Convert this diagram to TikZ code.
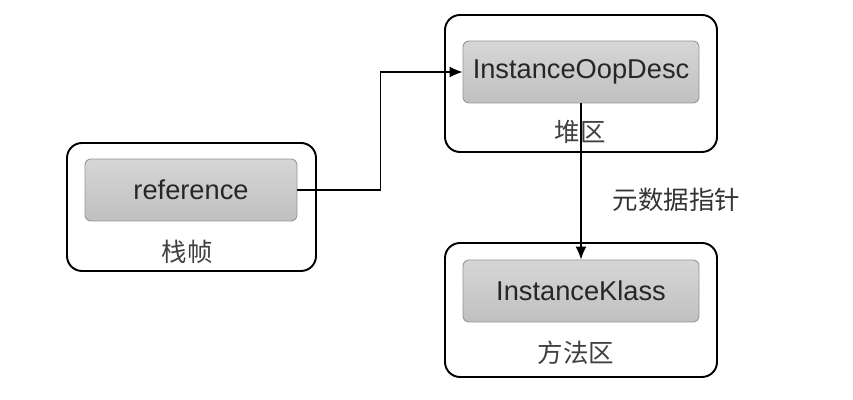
\documentclass[tikz,border=0pt]{standalone}
\usepackage{fontspec}
\setmainfont{Liberation Sans}
\newfontfamily\cjk{Noto Sans CJK SC}
\usepackage{tikz}
\usetikzlibrary{arrows.meta,positioning,calc}
\definecolor{boxline}{RGB}{150,150,150}
\definecolor{boxtop}{RGB}{214,214,214}
\definecolor{boxbot}{RGB}{192,192,192}
\tikzset{
  region/.style={rectangle, rounded corners=0.3cm, draw=black, line width=1.1pt,
                 minimum width=#1, fill=white},
  objbox/.style={rectangle, rounded corners=0.12cm, draw=boxline, line width=0.5pt,
                 top color=boxtop, bottom color=boxbot, minimum height=1.24cm,
                 minimum width=#1, font=\fontsize{15.5}{18}\selectfont, text=black!85},
  arealabel/.style={font=\cjk\fontsize{14.5}{17}\selectfont, text=black!75},
  arr/.style={-{Latex[length=2.6mm,width=2.2mm]}, line width=0.8pt},
}
\begin{document}
\begin{tikzpicture}
  \useasboundingbox (0,0) rectangle (17.06,8);
  % stack frame
  \node[region=4.98cm, minimum height=2.56cm] (stack) at (3.83,3.86) {};
  \node[objbox=4.24cm] (ref) at (3.82,4.2) {reference};
  \node[arealabel] (stacklbl) at (3.74,2.96) {栈帧};
  % heap
  \node[region=5.44cm, minimum height=2.74cm] (heap) at (11.62,6.33) {};
  \node[objbox=4.72cm] (oop) at (11.62,6.56) {InstanceOopDesc};
  \node[arealabel] (heaplbl) at (11.6,5.36) {堆区};
  % method area
  \node[region=5.44cm, minimum height=2.68cm] (method) at (11.62,1.8) {};
  \node[objbox=4.72cm] (klass) at (11.62,2.18) {InstanceKlass};
  \node[arealabel] (methodlbl) at (11.52,0.94) {方法区};
  % pointers
  \draw[arr] (ref.east) -- ++(1.66,0) |- (oop.west);
  \draw[arr] (oop.south) -- node[pos=0.62, right=0.5cm, arealabel, text=black!80] (metalbl) {元数据指针} (klass.north);
\end{tikzpicture}
\end{document}
